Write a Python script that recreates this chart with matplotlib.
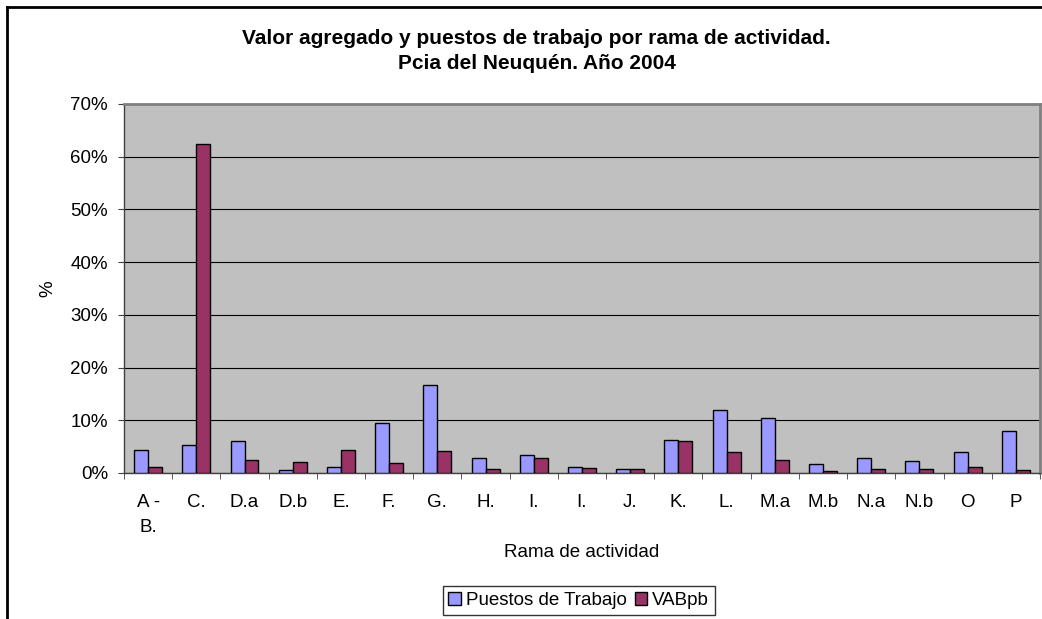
import matplotlib
matplotlib.use("Agg")
import matplotlib.pyplot as plt
import numpy as np
from matplotlib.lines import Line2D

plt.rcParams["font.family"] = ["Liberation Sans", "DejaVu Sans"]

categories = ["A -\nB.", "C.", "D.a", "D.b", "E.", "F.", "G.", "H.", "I.", "I.",
              "J.", "K.", "L.", "M.a", "M.b", "N.a", "N.b", "O", "P"]
puestos = [4.3, 5.3, 6.0, 0.6, 1.2, 9.4, 16.6, 2.9, 3.4, 1.2,
           0.8, 6.3, 12.0, 10.5, 1.7, 2.9, 2.3, 4.0, 7.9]
vabpb = [1.1, 62.4, 2.4, 2.0, 4.4, 1.8, 4.1, 0.8, 2.9, 0.9,
         0.8, 6.0, 4.0, 2.5, 0.3, 0.8, 0.8, 1.1, 0.5]

fig = plt.figure(figsize=(10.42, 6.19), dpi=100)
ax = fig.add_axes([0.119, 0.236, 0.879, 0.596])

x = np.arange(len(categories))
w = 0.29
ax.bar(x - w / 2, puestos, w, color="#9999FF", edgecolor="black", linewidth=1.0,
       label="Puestos de Trabajo", zorder=3)
ax.bar(x + w / 2, vabpb, w, color="#993366", edgecolor="black", linewidth=1.0,
       label="VABpb", zorder=3)

ax.set_facecolor("#C0C0C0")
ax.set_xlim(-0.5, len(categories) - 0.5)
ax.set_ylim(0, 70)
ax.set_yticks(range(0, 71, 10))
ax.set_yticklabels([f"{v}%" for v in range(0, 71, 10)], fontsize=13.5)
ax.yaxis.grid(True, color="black", linewidth=0.8, zorder=1)

ax.set_xticks(x)
ax.set_xticklabels(categories, fontsize=13.5, linespacing=1.6)
ax.set_xticks(np.arange(-0.5, len(categories), 1), minor=True)
ax.tick_params(axis="x", which="major", length=0, pad=15)
ax.tick_params(axis="x", which="minor", length=4.5, color="#404040")
ax.tick_params(axis="y", length=4.5, color="#404040", pad=7)

for side in ["top", "right"]:
    ax.spines[side].set_color("#808080")
    ax.spines[side].set_linewidth(2)
for side in ["left", "bottom"]:
    ax.spines[side].set_color("#404040")
    ax.spines[side].set_linewidth(1)

ax.set_xlabel("Rama de actividad", fontsize=13.5, labelpad=6)
ax.set_ylabel("%", fontsize=13.5, labelpad=10)

fig.text(0.515, 0.917, "Valor agregado y puestos de trabajo por rama de actividad.\nPcia del Neuquén. Año 2004",
         ha="center", va="center", fontsize=15, fontweight="bold", linespacing=1.4)

ax.legend(loc="center", bbox_to_anchor=(0.5555, 0.030), bbox_transform=fig.transFigure,
          ncol=2, frameon=True, fancybox=False, edgecolor="black", fontsize=13.5,
          handlelength=0.65, handleheight=0.65, handletextpad=0.3, columnspacing=0.4,
          borderpad=0.3, borderaxespad=0)

# outer chart frame
fig.add_artist(Line2D([7 / 1042, 7 / 1042], [0, 1 - 7 / 619], color="black", linewidth=2,
                      transform=fig.transFigure))
fig.add_artist(Line2D([7 / 1042, 1], [1 - 7 / 619, 1 - 7 / 619], color="black", linewidth=2,
                      transform=fig.transFigure))

fig.savefig("out.png", dpi=100)
